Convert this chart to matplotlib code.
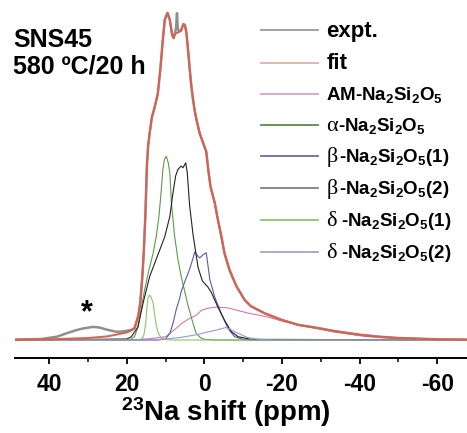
import matplotlib
matplotlib.use("Agg")
import matplotlib.pyplot as plt
from matplotlib.ticker import MultipleLocator

plt.rcParams['font.family'] = ['Liberation Sans', 'DejaVu Sans']
plt.rcParams['font.weight'] = 'bold'
plt.rcParams['axes.unicode_minus'] = False
plt.rcParams['mathtext.fontset'] = 'custom'
plt.rcParams['mathtext.rm'] = 'Liberation Sans:bold'
plt.rcParams['mathtext.it'] = 'Liberation Sans:bold'
plt.rcParams['mathtext.bf'] = 'Liberation Sans:bold'

# ---------------- data (ppm, normalized intensity) ----------------
ppm_fit = [48.8, 40, 30, 25, 22, 20, 19, 18, 17.5, 17, 16.5, 16, 15.6, 15.2, 14.8,
           14.5, 14.1, 13.5, 12.8, 12.0, 11.3, 10.7, 10.2, 9.5, 8.9, 8.3, 7.9, 7.6,
           7.0, 6.5, 6.0, 5.4, 5.0, 4.6, 4.2, 3.8, 3.4, 3.0, 2.5, 2.0, 1.2, 0.3,
           -0.5, -1.0, -1.6, -2.7, -3.5, -4.4, -5.2, -6.5, -8.3, -10.4, -12, -15.6,
           -20, -24.2, -28.5, -33.6, -40, -45, -50, -60, -67.7]
int_fit = [0.1, 0.2, 0.6, 1.1, 1.8, 2.3, 2.8, 3.5, 5.5, 7.5, 11.5, 19, 27, 38, 53,
           59, 63, 68, 71, 75, 83, 91.5, 97.6, 99.7, 97.6, 93, 92, 93.3,
           93.6, 94, 94.3, 96.3, 96, 93.5, 88.4, 83, 78, 74, 70, 67, 63, 60,
           57.4, 52, 46.7, 41.7, 36.6, 31.5, 26.4, 21.3, 16.3, 12.2, 10.3, 8.1,
           6.1, 4.6, 3.8, 2.7, 1.6, 1.0, 0.6, 0.2, 0.1]

ppm_expt = [48.8, 42, 38, 35.6, 33, 31.3, 28.7, 27, 25.3, 22.7, 21, 20, 19, 18, 17.5,
            17, 16.5, 16, 15.6, 15.2, 14.8, 14.5, 14.1, 13.5, 12.8, 12.0, 11.3, 10.7,
            10.2, 9.5, 8.9, 8.3, 7.9, 7.6, 7.3, 7.05, 6.85, 6.5, 6.0, 5.4, 5.0, 4.6,
            4.2, 3.8, 3.4, 3.0, 2.5, 2.0, 1.2, 0.3, -0.5, -1.0, -1.6, -2.7, -3.5,
            -4.4, -5.2, -6.5, -8.3, -10.4, -12, -15.6, -20, -24.2, -28.5, -33.6,
            -40, -45, -50, -60, -67.7]
int_expt = [0.1, 0.3, 1.0, 2.0, 3.0, 3.5, 4.0, 3.8, 3.2, 2.5, 2.6, 2.8, 3.0, 3.6, 5.5,
            7.5, 11.5, 19, 27, 38, 53, 59, 63, 68, 71, 75, 83, 91.5,
            97.6, 99.7, 97.6, 93, 92, 93.3, 95, 99.6, 95, 94, 94.3, 96.3, 96, 93.5,
            88.4, 83, 78, 74, 70, 67, 63, 60, 57.4, 52, 46.7, 41.7, 36.6,
            31.5, 26.4, 21.3, 16.3, 12.2, 10.3, 8.1, 6.1, 4.6, 3.8, 2.7,
            1.6, 1.0, 0.6, 0.2, 0.1]

ppm_am = [48.8, 20, 16.3, 14, 10, 8.9, 6.8, 5.9, 4.2, 2.1, 0.8, -1, -3.1, -6, -11.3,
          -16.4, -19.9, -25, -28.5, -33.6, -42, -50, -60, -67.7]
int_am = [0, 0, 0.2, 0.4, 1, 2, 4, 5, 6.3, 7.5, 9, 9.7, 10, 9.8, 8.2,
          7, 5.8, 4.5, 3.6, 2.4, 1.0, 0.4, 0.1, 0]

ppm_alpha = [48.8, 20, 19, 18, 17.1, 16.5, 15.4, 14.3, 13.2, 12.4, 11.7, 11.1, 10.7,
             10.3, 9.8, 9.3, 8.9, 8.5, 8.1, 7.7, 6.8, 5.9, 5.5, 4.2, 2.9, 2.1, 1.0,
             0, -3, -67.7]
int_alpha = [0, 0, 0.2, 1, 4, 8, 15.2, 21.3, 26.4, 31.5, 37.6, 45.7, 51.8,
             55, 56, 54, 51, 42, 37, 32, 24.5, 19, 17, 10.5, 5, 2, 0.7,
             0.2, 0, 0]

ppm_beta1 = [48.8, 12, 10, 8.9, 8.1, 7.2, 6.4, 5.9, 4.8, 3.8, 2.9, 2.5, 2.0, 1.2, 0.3,
             -0.5, -0.9, -1.4, -2.7, -4.4, -6.1, -7.8, -10, -14, -67.7]
int_beta1 = [0, 0, 0.3, 2, 5, 9.5, 12.5, 15, 18.5, 21.5, 25, 26.8, 26, 25, 26,
             26.6, 23, 18.5, 13, 8, 3.5, 1, 0.2, 0, 0]

ppm_beta2 = [48.8, 20, 18.8, 17.1, 15.8, 14.1, 12.8, 11.5, 10.2, 8.9, 8.1, 7.4, 6.8,
             6.0, 5.5, 4.8, 4.4, 3.8, 2.9, 1.6, 0.5, -1.0, -1.8, -3.5, -5.2, -7,
             -8.7, -12, -67.7]
int_beta2 = [0, 0.3, 1, 4, 11.2, 19.3, 23.4, 27.4, 31.5, 37.6, 44.7, 50, 52,
             53, 52.5, 54, 51, 41, 32, 22, 18, 16, 14.5, 10, 6, 2.5,
             1, 0.2, 0]

ppm_delta1 = [48.8, 17, 16, 15.6, 15.1, 14.8, 14.5, 14.1, 13.7, 13.2, 12.6, 12, 11.1,
              10, 8, -67.7]
int_delta1 = [0, 0, 0.4, 1.5, 5, 10, 13, 13.7, 13, 11.2, 6, 2.5, 0.5,
              0.1, 0, 0]

ppm_delta2 = [48.8, 14, 10, 6, 2, 0, -3, -5.5, -6.5, -8, -9.5, -11, -14, -18, -67.7]
int_delta2 = [0, 0, 0.3, 0.8, 1.6, 2.2, 3, 3.8, 3.4, 2.4, 1.6, 0.8, 0.2, 0, 0]

# legend labels: Greek prefix drawn separately in a serif face
labels = ["expt.", "fit", "AM-Na$_2$Si$_2$O$_5$",
          "-Na$_2$Si$_2$O$_5$",
          "-Na$_2$Si$_2$O$_5$(1)",
          "-Na$_2$Si$_2$O$_5$(2)",
          "-Na$_2$Si$_2$O$_5$(1)",
          "-Na$_2$Si$_2$O$_5$(2)"]
greek = ["", "", "", "\u03b1", "\u03b2", "\u03b2", "\u03b4", "\u03b4"]
greek_gap = [0, 0, 0, 0.5, 1.5, 1.5, 4, 4]
xticks = [40, 20, 0, -20, -40, -60]

# ---------------- figure ----------------
W, H = 467, 433
fig = plt.figure(figsize=(W / 100, H / 100), dpi=100)
ax = fig.add_axes([15 / W, 75 / H, 452 / W, 353 / H])

c_expt = '#8f8f8f'
c_fit = '#dc5f50'
c_am = '#d57aa8'
c_alpha = '#5c9a48'
c_beta1 = '#5a5aa8'
c_beta2 = '#222222'
c_delta1 = '#8ec46a'
c_delta2 = '#9a9ad2'

l_am, = ax.plot(ppm_am, int_am, color=c_am, lw=0.8)
l_al, = ax.plot(ppm_alpha, int_alpha, color=c_alpha, lw=0.8)
l_b1, = ax.plot(ppm_beta1, int_beta1, color=c_beta1, lw=0.8)
l_b2, = ax.plot(ppm_beta2, int_beta2, color=c_beta2, lw=0.8)
l_d1, = ax.plot(ppm_delta1, int_delta1, color=c_delta1, lw=0.8)
l_d2, = ax.plot(ppm_delta2, int_delta2, color=c_delta2, lw=0.8)
l_ex, = ax.plot(ppm_expt, int_expt, color=c_expt, lw=1.8)
l_fi, = ax.plot(ppm_fit, int_fit, color=c_fit, lw=1.4)

ax.set_xlim(48.8, -67.7)
ax.set_ylim(-5.49, 102.1)
for s in ['left', 'right', 'top']:
    ax.spines[s].set_visible(False)
ax.spines['bottom'].set_linewidth(1.4)
ax.set_yticks([])
ax.set_xticks(xticks)
ax.set_xticklabels([str(t) for t in xticks])
ax.xaxis.set_minor_locator(MultipleLocator(10))
ax.tick_params(axis='x', which='major', direction='out', length=4.5, width=1.3,
               labelsize=16.5, pad=6)
ax.tick_params(axis='x', which='minor', direction='out', length=2.8, width=1.1)
for t in ax.get_xticklabels():
    t.set_fontweight('bold')
ax.set_xlabel("$^{23}$Na shift (ppm)", fontsize=20, fontweight='bold', labelpad=0,
              x=(226 - 15) / 452)

ax.text(30.2, 8.3, "*", fontsize=22, fontweight='bold', ha='center', va='center')

fig.text(13 / W, 1 - 47 / H, "SNS45", fontsize=18, fontweight='bold',
         ha='left', va='baseline')
fig.text(13 / W, 1 - 73 / H, "580 \u00baC/20 h", fontsize=18, fontweight='bold',
         ha='left', va='baseline')

handles = [l_ex, l_fi, l_am, l_al, l_b1, l_b2, l_d1, l_d2]
leg = ax.legend(handles, labels, loc='upper left',
                bbox_to_anchor=(261 / W, 1 - 21 / H), bbox_transform=fig.transFigure,
                frameon=False, fontsize=13.5, handlelength=3.05, handletextpad=0.43,
                labelspacing=0.59, borderpad=0, borderaxespad=0)
leg_cols = ['#999999', '#e2b0b0', '#d8a2c8', '#5a8a48', '#6a6aaa', '#808080',
            '#92c272', '#a4a4c8']
for ln, c in zip(leg.get_lines(), leg_cols):
    ln.set_color(c)
    ln.set_linewidth(1.3)
for i, t in enumerate(leg.get_texts()):
    t.set_fontweight('bold')
    if i < 2:
        t.set_fontsize(16)

fig.canvas.draw()
renderer = fig.canvas.get_renderer()
for t, g, gap in zip(leg.get_texts(), greek, greek_gap):
    if not g:
        continue
    x, y = t.get_transform().transform(t.get_position())
    gt = fig.text(x / W, y / H, g, fontsize=16, fontweight='normal',
                  family=['Liberation Serif', 'DejaVu Serif'], ha='left', va='baseline')
    gw = gt.get_window_extent(renderer).width
    px, py = t.get_position()
    t.set_position((px + gw + gap, py))

fig.savefig("out.png", dpi=100)
